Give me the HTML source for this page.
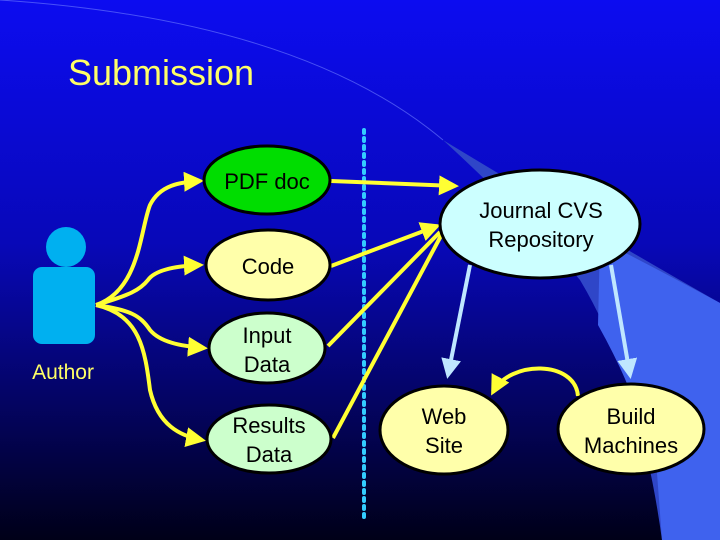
<!DOCTYPE html>
<html><head><style>
body{margin:0;width:720px;height:540px;overflow:hidden;font-family:"Liberation Sans",sans-serif}
</style></head><body>
<svg width="720" height="540" xmlns="http://www.w3.org/2000/svg">
<defs>
<linearGradient id="bg" x1="0" y1="0" x2="0" y2="1">
<stop offset="0" stop-color="#0c0cf0"/>
<stop offset="0.45" stop-color="#0808b8"/>
<stop offset="1" stop-color="#000018"/>
</linearGradient>
<marker id="ay" markerWidth="5" markerHeight="5" refX="4" refY="2.5" orient="auto" markerUnits="strokeWidth">
<path d="M0,0 L5,2.5 L0,5 Z" fill="#ffff33"/></marker>
<marker id="ab" markerWidth="5" markerHeight="5" refX="4" refY="2.5" orient="auto" markerUnits="strokeWidth">
<path d="M0,0 L5,2.5 L0,5 Z" fill="#bfe6ff"/></marker>
</defs>
<rect width="720" height="540" fill="url(#bg)"/>
<path d="M443,140 Q530,220 580,280 Q640,380 662,540 L720,540 L720,303 Q600,235 443,140 Z" fill="#2f46c8"/>
<path d="M720,303 Q650,265 600,240 L598,325 Q640,400 657,473 L662,540 L720,540 Z" fill="#3f62ee"/>
<path d="M0,0 Q300,20 443,140" fill="none" stroke="#6f7fff" stroke-width="1" opacity="0.6"/>
<text x="68" y="85" font-size="36" fill="#ffff66">Submission</text>
<line x1="364" y1="130" x2="364" y2="520" stroke="#33ccff" stroke-width="4" stroke-dasharray="3,5" stroke-linecap="round"/>
<circle cx="66" cy="247" r="20" fill="#00b0f0"/>
<rect x="33" y="267" width="62" height="77" rx="9" fill="#00b0f0"/>
<text x="63" y="379" font-size="21" fill="#ffff66" text-anchor="middle">Author</text>
<g fill="none" stroke="#ffff33" stroke-width="4">
<path d="M96,305 C140,290 140,230 150,205 C160,185 180,182 200,181" marker-end="url(#ay)"/>
<path d="M96,305 C130,295 140,290 148,280 C155,270 175,266 200,265" marker-end="url(#ay)"/>
<path d="M96,305 C130,310 140,315 150,330 C160,342 180,346 204,348" marker-end="url(#ay)"/>
<path d="M96,305 C140,315 145,350 150,390 C158,425 180,436 202,440" marker-end="url(#ay)"/>
<path d="M331,181 L455,186" marker-end="url(#ay)"/>
<path d="M331,266 L437,226" marker-end="url(#ay)"/>
<path d="M328,346 L440,232"/>
<path d="M333,438 L443,232"/>
<path d="M578,396 C575,360 510,360 493,392" marker-end="url(#ay)"/>
</g>
<g fill="none" stroke="#bfe6ff" stroke-width="4">
<path d="M470,265 L448,375" marker-end="url(#ab)"/>
<path d="M611,265 L630,375" marker-end="url(#ab)"/>
</g>
<g stroke="#000" stroke-width="3">
<ellipse cx="267" cy="180" rx="63" ry="34" fill="#00dd00"/>
<ellipse cx="268" cy="265" rx="62" ry="35" fill="#ffffaa"/>
<ellipse cx="267" cy="348" rx="58" ry="35" fill="#ccffcc"/>
<ellipse cx="269" cy="439" rx="62" ry="34" fill="#ccffcc"/>
<ellipse cx="540" cy="224" rx="100" ry="54" fill="#ccffff"/>
<ellipse cx="444" cy="430" rx="64" ry="44" fill="#ffffaa"/>
<ellipse cx="631" cy="429" rx="73" ry="45" fill="#ffffaa"/>
</g>
<g font-size="22" text-anchor="middle" fill="#000">
<text x="267" y="189">PDF doc</text>
<text x="268" y="274">Code</text>
<text x="267" y="343">Input</text>
<text x="267" y="372">Data</text>
<text x="269" y="433">Results</text>
<text x="269" y="462">Data</text>
<text x="541" y="218">Journal CVS</text>
<text x="541" y="247">Repository</text>
<text x="444" y="424">Web</text>
<text x="444" y="453">Site</text>
<text x="631" y="424">Build</text>
<text x="631" y="453">Machines</text>
</g>
</svg>
</body></html>
